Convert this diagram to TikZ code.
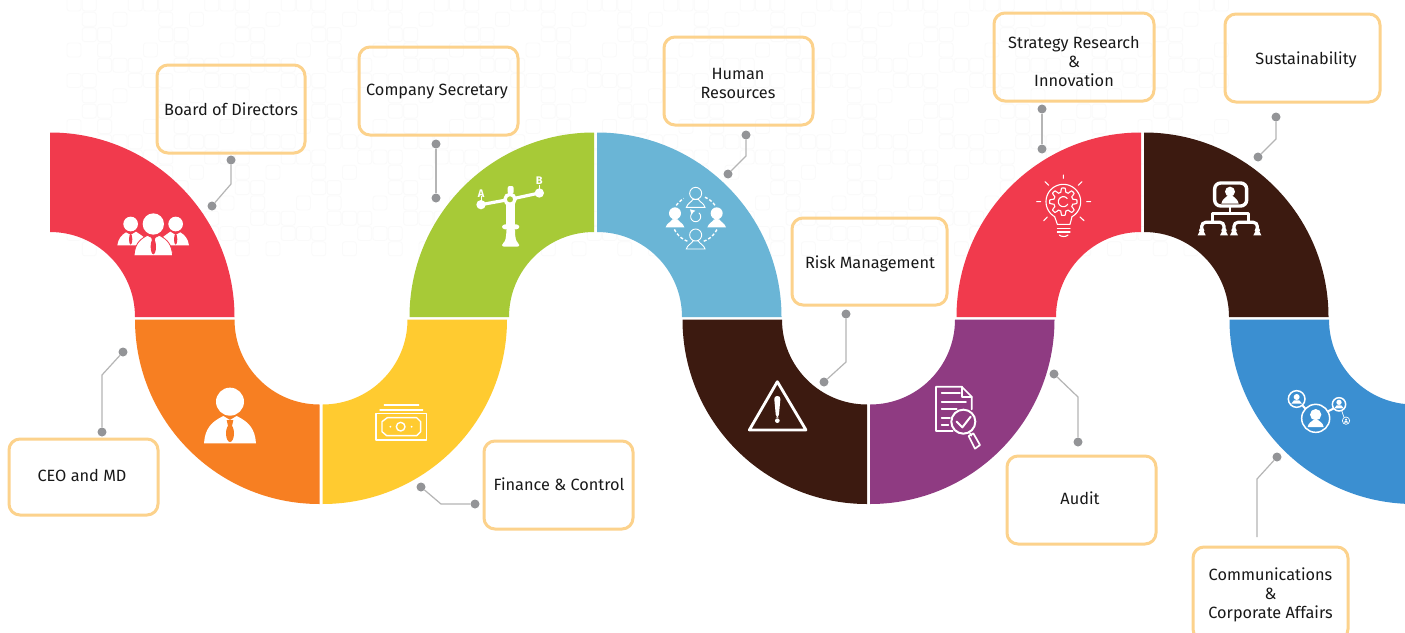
\documentclass[tikz,border=0pt]{standalone}
\usepackage{fontspec}
\setmainfont{Fira Sans}
\definecolor{cred}{HTML}{F13A4D}
\definecolor{corange}{HTML}{F77F22}
\definecolor{cyellow}{HTML}{FFCB30}
\definecolor{cgreen}{HTML}{A7CA37}
\definecolor{cblue}{HTML}{6AB5D6}
\definecolor{cbrown}{HTML}{3C1A10}
\definecolor{cpurple}{HTML}{8F3B82}
\definecolor{cdeep}{HTML}{3B8FD1}
\definecolor{cbox}{HTML}{FCD28C}
\definecolor{cdot}{HTML}{939497}
\definecolor{cline}{HTML}{B5B5B5}
\definecolor{cfaint}{HTML}{FAFAFA}
\tikzset{
  callout/.style={draw=cbox,line width=3pt,rounded corners=11pt,inner sep=0pt},
  lbl/.style={font=\fontsize{16.3}{19}\selectfont,align=center,text=black!90,inner sep=0pt},
  pin/.style={circle,fill=cdot,inner sep=0pt,minimum size=9pt},
  wire/.style={draw=cline,line width=1.2pt},
  zoomcs/.style={x=.33333pt,y=-.33333pt},
  icon/.style={draw=white,line cap=round,line join=round},
}
% quarter ring: centre, quadrant signs, colour
\newcommand{\ringq}[5]{%
  \fill[#5] ({#1+#3*184.5},#2)
    .. controls ({#1+#3*184.5},{#2+#4*101.9}) and ({#1+#3*101.9},{#2+#4*184.5}) .. (#1,{#2+#4*184.5})
    -- (#1,{#2+#4*85})
    .. controls ({#1+#3*47},{#2+#4*85}) and ({#1+#3*85},{#2+#4*47}) .. ({#1+#3*85},#2) -- cycle;}
\newcommand{\boxat}[5]{\node[callout,minimum width=#4pt,minimum height=#5pt] (#1) at (#2,#3) {};}
\newcommand{\hrbody}{(-28,42) .. controls (-25,30) and (-12,26) .. (-8,18) -- (8,18) .. controls (12,26) and (25,30) .. (28,42) -- cycle}
\begin{document}
\begin{tikzpicture}[x=1pt,y=-1pt]
\useasboundingbox (0,0) rectangle (1405,632);
\clip (0,0) rectangle (1405,632);
\fill[white] (0,0) rectangle (1405,632);
% faint background pattern
\foreach \i in {0,...,75}{\foreach \j in {0,...,16}{%
  \pgfmathtruncatemacro{\keep}{mod(\i*\i+\j*7+\i*\j+\j*\j,5)<2 ? 1 : 0}%
  \ifnum\keep=1
    \draw[cfaint,line width=.8pt,rounded corners=2.5pt] ({67+15.3*\i},{-3+15.3*\j}) rectangle +(14,14);
  \fi}}
% ribbon
\ringq{50}{317}{1}{-1}{cred}
\ringq{319.5}{319.5}{-1}{1}{corange}
\ringq{322.5}{319.5}{1}{1}{cyellow}
\ringq{594}{317}{-1}{-1}{cgreen}
\ringq{597}{317}{1}{-1}{cblue}
\ringq{867}{319.5}{-1}{1}{cbrown}
\ringq{870}{319.5}{1}{1}{cpurple}
\ringq{1141}{317}{-1}{-1}{cred}
\ringq{1144}{317}{1}{-1}{cbrown}
\ringq{1414}{319.5}{-1}{1}{cdeep}
% boxes
\boxat{b1}{231}{109}{148}{88}
\boxat{b2}{438.5}{91}{159}{88}
\boxat{b3}{738.5}{81}{149}{88}
\boxat{b4}{869.5}{261.5}{155}{87}
\boxat{b5}{1074}{57}{160}{88}
\boxat{b6}{1302.5}{58}{155}{88}
\boxat{b7}{83.5}{477}{149}{76}
\boxat{b8}{558.5}{485}{149}{88}
\boxat{b9}{1081.5}{500}{149}{88}
\boxat{b10}{1270.5}{593.5}{155}{93}
% labels
\node[lbl] (t1) at (231,109) {Board of Directors};
\node[lbl] (t2) at (437,92) {Company Secretary};
\node[lbl] (t3) at (738,83) {Human\\Resources};
\node[lbl] (t4) at (870,263.5) {Risk Management};
\node[lbl] (t5) at (1074,61) {Strategy Research\\\&\\Innovation};
\node[lbl] (t6) at (1306,59.5) {Sustainability};
\node[lbl] (t7) at (82,475) {CEO and MD};
\node[lbl] (t8) at (559,484) {Finance \& Control};
\node[lbl] (t9) at (1080,498) {Audit};
\node[lbl] (t10) at (1270.5,594.5) {Communications\\\&\\Corporate Affairs};
% connectors
\node[pin] (p1a) at (231,160) {}; \node[pin] (p1b) at (212,206) {}; \coordinate (k1) at (231,184);
\node[pin] (p2a) at (436,144) {}; \node[pin] (p2b) at (436,198) {};
\node[pin] (p3a) at (746,135) {}; \node[pin] (p3b) at (728,174) {}; \coordinate (k3) at (746,156);
\node[pin] (p4a) at (846,314) {}; \node[pin] (p4b) at (824,382) {}; \coordinate (k4) at (846,362);
\node[pin] (p5a) at (1042,109) {}; \node[pin] (p5b) at (1042,149) {};
\node[pin] (p6a) at (1276,117) {}; \node[pin] (p6b) at (1258,157) {}; \coordinate (k6) at (1276,139);
\node[pin] (p7a) at (123,352) {}; \node[pin] (p7b) at (102,432) {}; \coordinate (k7) at (102,375);
\node[pin] (p8a) at (421,487) {}; \node[pin] (p8b) at (475,504) {}; \coordinate (k8) at (441,504);
\node[pin] (p9a) at (1054,374) {}; \node[pin] (p9b) at (1078,442) {}; \coordinate (k9) at (1078,397);
\node[pin] (p10a) at (1277,457) {}; \coordinate (k10) at (1257,479); \coordinate (e10) at (1257,537);
\draw[wire] (p1a) -- (k1) -- (p1b);
\draw[wire] (p2a) -- (p2b);
\draw[wire] (p3a) -- (k3) -- (p3b);
\draw[wire] (p4a) -- (k4) -- (p4b);
\draw[wire] (p5a) -- (p5b);
\draw[wire] (p6a) -- (k6) -- (p6b);
\draw[wire] (p7a) -- (k7) -- (p7b);
\draw[wire] (p8a) -- (k8) -- (p8b);
\draw[wire] (p9a) -- (k9) -- (p9b);
\draw[wire] (p10a) -- (k10) -- (e10);
% --- icon: three people
\begin{scope}[shift={(40,120)},zoomcs]
  \fill[white] (272,312) circle[radius=22] (407,312) circle[radius=22];
  \fill[white] (232,376) .. controls (235,355) and (245,345) .. (258,337) -- (272,345) -- (288,335) -- (310,350) -- (300,376) -- cycle;
  \fill[white] (447,376) .. controls (444,355) and (434,345) .. (421,337) -- (407,345) -- (391,335) -- (370,350) -- (380,376) -- cycle;
  \fill[cred] (272,358) ellipse[x radius=5,y radius=16] (407,358) ellipse[x radius=5,y radius=16];
  \filldraw[fill=white,draw=cred,line width=.8pt] (282,407) .. controls (285,375) and (295,360) .. (322,346) -- (340,355) -- (358,346) .. controls (385,360) and (395,375) .. (398,407) -- cycle;
  \fill[white] (340,312) circle[radius=32];
  \fill[cred] (340,380) ellipse[x radius=8,y radius=23] (333,350) -- (347,350) -- (344,362) -- (336,362) -- cycle;
\end{scope}
% --- icon: one person
\begin{scope}[shift={(190,370)},zoomcs]
  \fill[white] (120,95) circle[radius=42];
  \fill[white] (42,220) .. controls (45,175) and (65,155) .. (100,138) -- (120,150) -- (140,138) .. controls (175,155) and (195,175) .. (198,220) -- cycle;
  \fill[corange] (120,190) ellipse[x radius=12,y radius=26] (110,150) -- (130,150) -- (126,168) -- (114,168) -- cycle;
\end{scope}
% --- icon: banknotes
\begin{scope}[shift={(190,370)},zoomcs,icon,line width=1.4pt]
  \draw (558,130) rectangle (710,210);
  \draw (592,143) -- (680,143) -- (692,155) -- (692,185) -- (680,197) -- (590,197) -- (576,185) -- (576,155) -- cycle;
  \draw (632,170) circle[radius=13];
  \fill[white] (601,170) circle[radius=3] (665,170) circle[radius=3];
  \draw (570,120) -- (698,120);
  \draw (583,105) -- (686,105);
\end{scope}
% --- icon: scales
\begin{scope}[shift={(460,170)},zoomcs]
  \draw[white,line width=3.2pt] (63,104) -- (150,88) -- (238,69);
  \fill[white] (63,104) circle[radius=14] (238,69) circle[radius=14];
  \draw[white,line width=1pt] (63,92) -- (63,78) (238,56) -- (238,46);
  \fill[white,rounded corners=2pt] (143,48) rectangle (161,72);
  \fill[white] (139,100) rectangle (164,168);
  \fill[white,rounded corners=3pt] (126,163) rectangle (178,178);
  \fill[white,rounded corners=2pt] (139,175) .. controls (139,205) and (135,215) .. (126,220) -- (126,230) -- (178,230) -- (178,220) .. controls (169,215) and (165,205) .. (165,175) -- cycle;
  \filldraw[fill=cgreen,draw=white,line width=3.4pt] (150,88) circle[radius=15];
  \node[text=white,font=\bfseries\fontsize{11}{11}\selectfont,inner sep=0pt] (la) at (63,72) {A};
  \node[text=white,font=\bfseries\fontsize{11}{11}\selectfont,inner sep=0pt] (lb) at (238,33) {B};
\end{scope}
% --- icon: people cycle
\begin{scope}[shift={(460,170)},zoomcs]
  \begin{scope}[shift={(645,130)}]\fill[white] (0,0) circle[radius=18] \hrbody;\end{scope}
  \begin{scope}[shift={(770,130)}]\fill[white] (0,0) circle[radius=18] \hrbody;\end{scope}
  \begin{scope}[shift={(707,70)}]\draw[white,line width=.9pt] (0,0) circle[radius=18] \hrbody;\end{scope}
  \begin{scope}[shift={(707,195)}]\draw[white,line width=.9pt] (0,0) circle[radius=18] \hrbody;\end{scope}
  \draw[white,line width=1.4pt,dash pattern=on 3pt off 2pt]
    plot[domain=215:240,samples=8] ({707+71*cos(\x)},{147+71*sin(\x)})
    plot[domain=293:325,samples=8] ({707+71*cos(\x)},{147+71*sin(\x)})
    plot[domain=154:106,samples=10] ({707+71*cos(\x)},{147+71*sin(\x)})
    plot[domain=70:24,samples=10] ({707+71*cos(\x)},{147+71*sin(\x)});
  \draw[white,line width=.9pt] plot[domain=-50:230,samples=20] ({707+15*cos(\x)},{140+15*sin(\x)});
  \fill[white] (690,118) -- (706,122) -- (694,132) -- cycle;
\end{scope}
% --- icon: warning
\begin{scope}[shift={(730,370)},zoomcs]
  \draw[white,line width=2.8pt,line join=round] (142,35) -- (58,180) -- (228,180) -- cycle;
  \fill[white,rounded corners=3pt] (132,78) -- (152,78) -- (146,143) -- (138,143) -- cycle;
  \fill[white] (142,152) circle[radius=7];
\end{scope}
% --- icon: audit document
\begin{scope}[shift={(730,370)},zoomcs,icon,line width=1.7pt]
  \draw (725,118) -- (725,80) -- (695,50) -- (618,50) -- (618,183) -- (668,183);
  \draw (695,50) -- (695,80) -- (725,80);
  \draw (635,70) -- (690,70) (635,95) -- (708,95) (635,118) -- (680,118) (635,143) -- (660,143) (635,165) -- (655,165);
  \draw[line width=2pt] (700,155) circle[radius=36];
  \draw[line width=2pt] (680,155) -- (697,172) -- (722,140);
  \draw (720,190) -- (724,197);
  \draw (716,198) -- (730,190) -- (750,225) -- (735,236) -- cycle;
\end{scope}
% --- icon: bulb
\begin{scope}[shift={(1020,165)},zoomcs,icon,line width=1.1pt]
  \draw plot[domain=-240:60,samples=50] ({130+52*cos(\x)},{110+52*sin(\x)});
  \draw (104,155) -- (112,178) -- (150,178) -- (156,155);
  \draw (112,190) -- (150,190) (112,201) -- (150,201);
  \draw (118,210) .. controls (122,216) and (140,216) .. (144,210);
  \draw plot[domain=0:360,samples=97] ({130+(35+6*min(1,max(-1,2.2*cos(8*\x))))*cos(\x)},{110+(35+6*min(1,max(-1,2.2*cos(8*\x))))*sin(\x)});
  \draw plot[domain=30:320,samples=24] ({130+15*cos(\x)},{110+15*sin(\x)});
  \draw (130,30) -- (130,40) (75,50) -- (86,61) (186,50) -- (175,61) (50,110) -- (62,110) (200,110) -- (212,110) (71,167) -- (82,156) (192,167) -- (180,156);
\end{scope}
% --- icon: organisation
\begin{scope}[shift={(1020,165)},zoomcs]
  \draw[white,line width=3.4pt,rounded corners=6pt] (584,54) rectangle (680,123);
  \fill[white] (630,80) circle[radius=15];
  \fill[white] (604,116) .. controls (606,102) and (618,98) .. (622,92) -- (638,92) .. controls (642,98) and (654,102) .. (656,116) -- cycle;
  \draw[white,line width=2.4pt,line join=round] (630,125) -- (630,145);
  \draw[white,line width=2.6pt,line join=round] (578,172) -- (578,145) -- (685,145) -- (685,172);
  \draw[white,line width=3.2pt,rounded corners=4pt] (545,190) -- (545,172) -- (612,172) -- (612,190);
  \draw[white,line width=3.2pt,rounded corners=4pt] (642,190) -- (642,172) -- (712,172) -- (712,190);
  \foreach \px in {545,612,642,712}{
    \fill[white] (\px,196) circle[radius=8];
    \fill[white] (\px-12,211) -- (\px-7,201) -- (\px+7,201) -- (\px+12,211) -- cycle;
  }
\end{scope}
% --- icon: network
\begin{scope}[shift={(1270,380)},zoomcs]
  \draw[white,line width=1.5pt] (137,115) circle[radius=42] (80,57) circle[radius=25] (207,73) circle[radius=20];
  \draw[white,line width=.7pt] (228,122) circle[radius=11];
  \draw[white,line width=2pt] (97,76) -- (108,88) (172,95) -- (190,86);
  \draw[white,line width=.7pt] (215,92) -- (222,112);
  \fill[white] (137,104) circle[radius=17];
  \fill[white] (113,141) .. controls (115,128) and (125,125) .. (130,120) -- (144,120) .. controls (149,125) and (159,128) .. (161,141) -- cycle;
  \fill[white] (80,51) circle[radius=9] (64,71) -- (72,61) -- (88,61) -- (96,71) -- cycle;
  \fill[white] (207,67) circle[radius=8] (193,85) -- (200,76) -- (214,76) -- (221,85) -- cycle;
  \fill[white] (228,119) circle[radius=3.5] (221,128) -- (225,123) -- (231,123) -- (235,128) -- cycle;
\end{scope}
\end{tikzpicture}
\end{document}
